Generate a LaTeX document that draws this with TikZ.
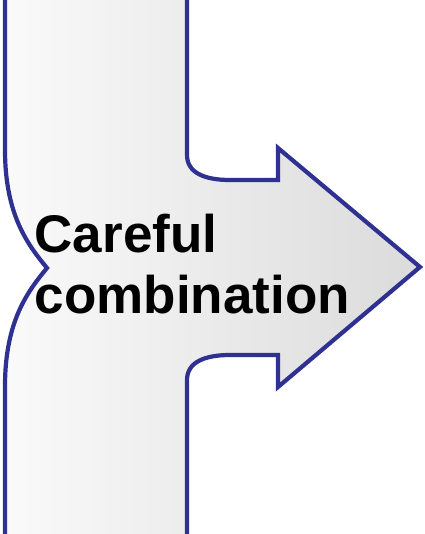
\documentclass[tikz,border=0pt]{standalone}
\usepackage{fontspec}
\setmainfont{Liberation Sans}
\definecolor{edgeblue}{RGB}{46,49,146}
\begin{document}
\begin{tikzpicture}[x=1pt,y=-1pt,
  edge/.style={draw=edgeblue,line width=4.2pt,line join=miter},
  label/.style={font=\fontsize{53}{61}\selectfont\bfseries,inner sep=0pt,anchor=base west,text=black}]
\useasboundingbox (0,0) rectangle (424,534);
% filled body
\shade[left color={rgb,255:red,250;green,250;blue,250},right color={rgb,255:red,219;green,219;blue,219}]
  (5,-4) -- (5,150) .. controls (5,215) and (28,245) .. (47,268)
  .. controls (28,291) and (5,321) .. (5,386) -- (5,540) -- (187,540)
  -- (187,380) .. controls (187,362) and (205,355) .. (230,355)
  -- (278,355) -- (278,387) -- (420,267) -- (278,148) -- (278,180)
  -- (230,180) .. controls (205,180) and (187,173) .. (187,155)
  -- (187,-4) -- cycle;
% left outline
\draw[edge] (5,-4) -- (5,150) .. controls (5,215) and (28,245) .. (47,268)
  .. controls (28,291) and (5,321) .. (5,386) -- (5,540);
% right outline with arrow
\draw[edge] (187,-4) -- (187,155) .. controls (187,173) and (205,180) .. (230,180)
  -- (278,180) -- (278,148) -- (420,267) -- (278,387) -- (278,355)
  -- (230,355) .. controls (205,355) and (187,362) .. (187,380) -- (187,540);
\node[label] (l1) at (34.5,252) {Careful};
\node[label] (l2) at (34.5,313) {combination};
\end{tikzpicture}
\end{document}
